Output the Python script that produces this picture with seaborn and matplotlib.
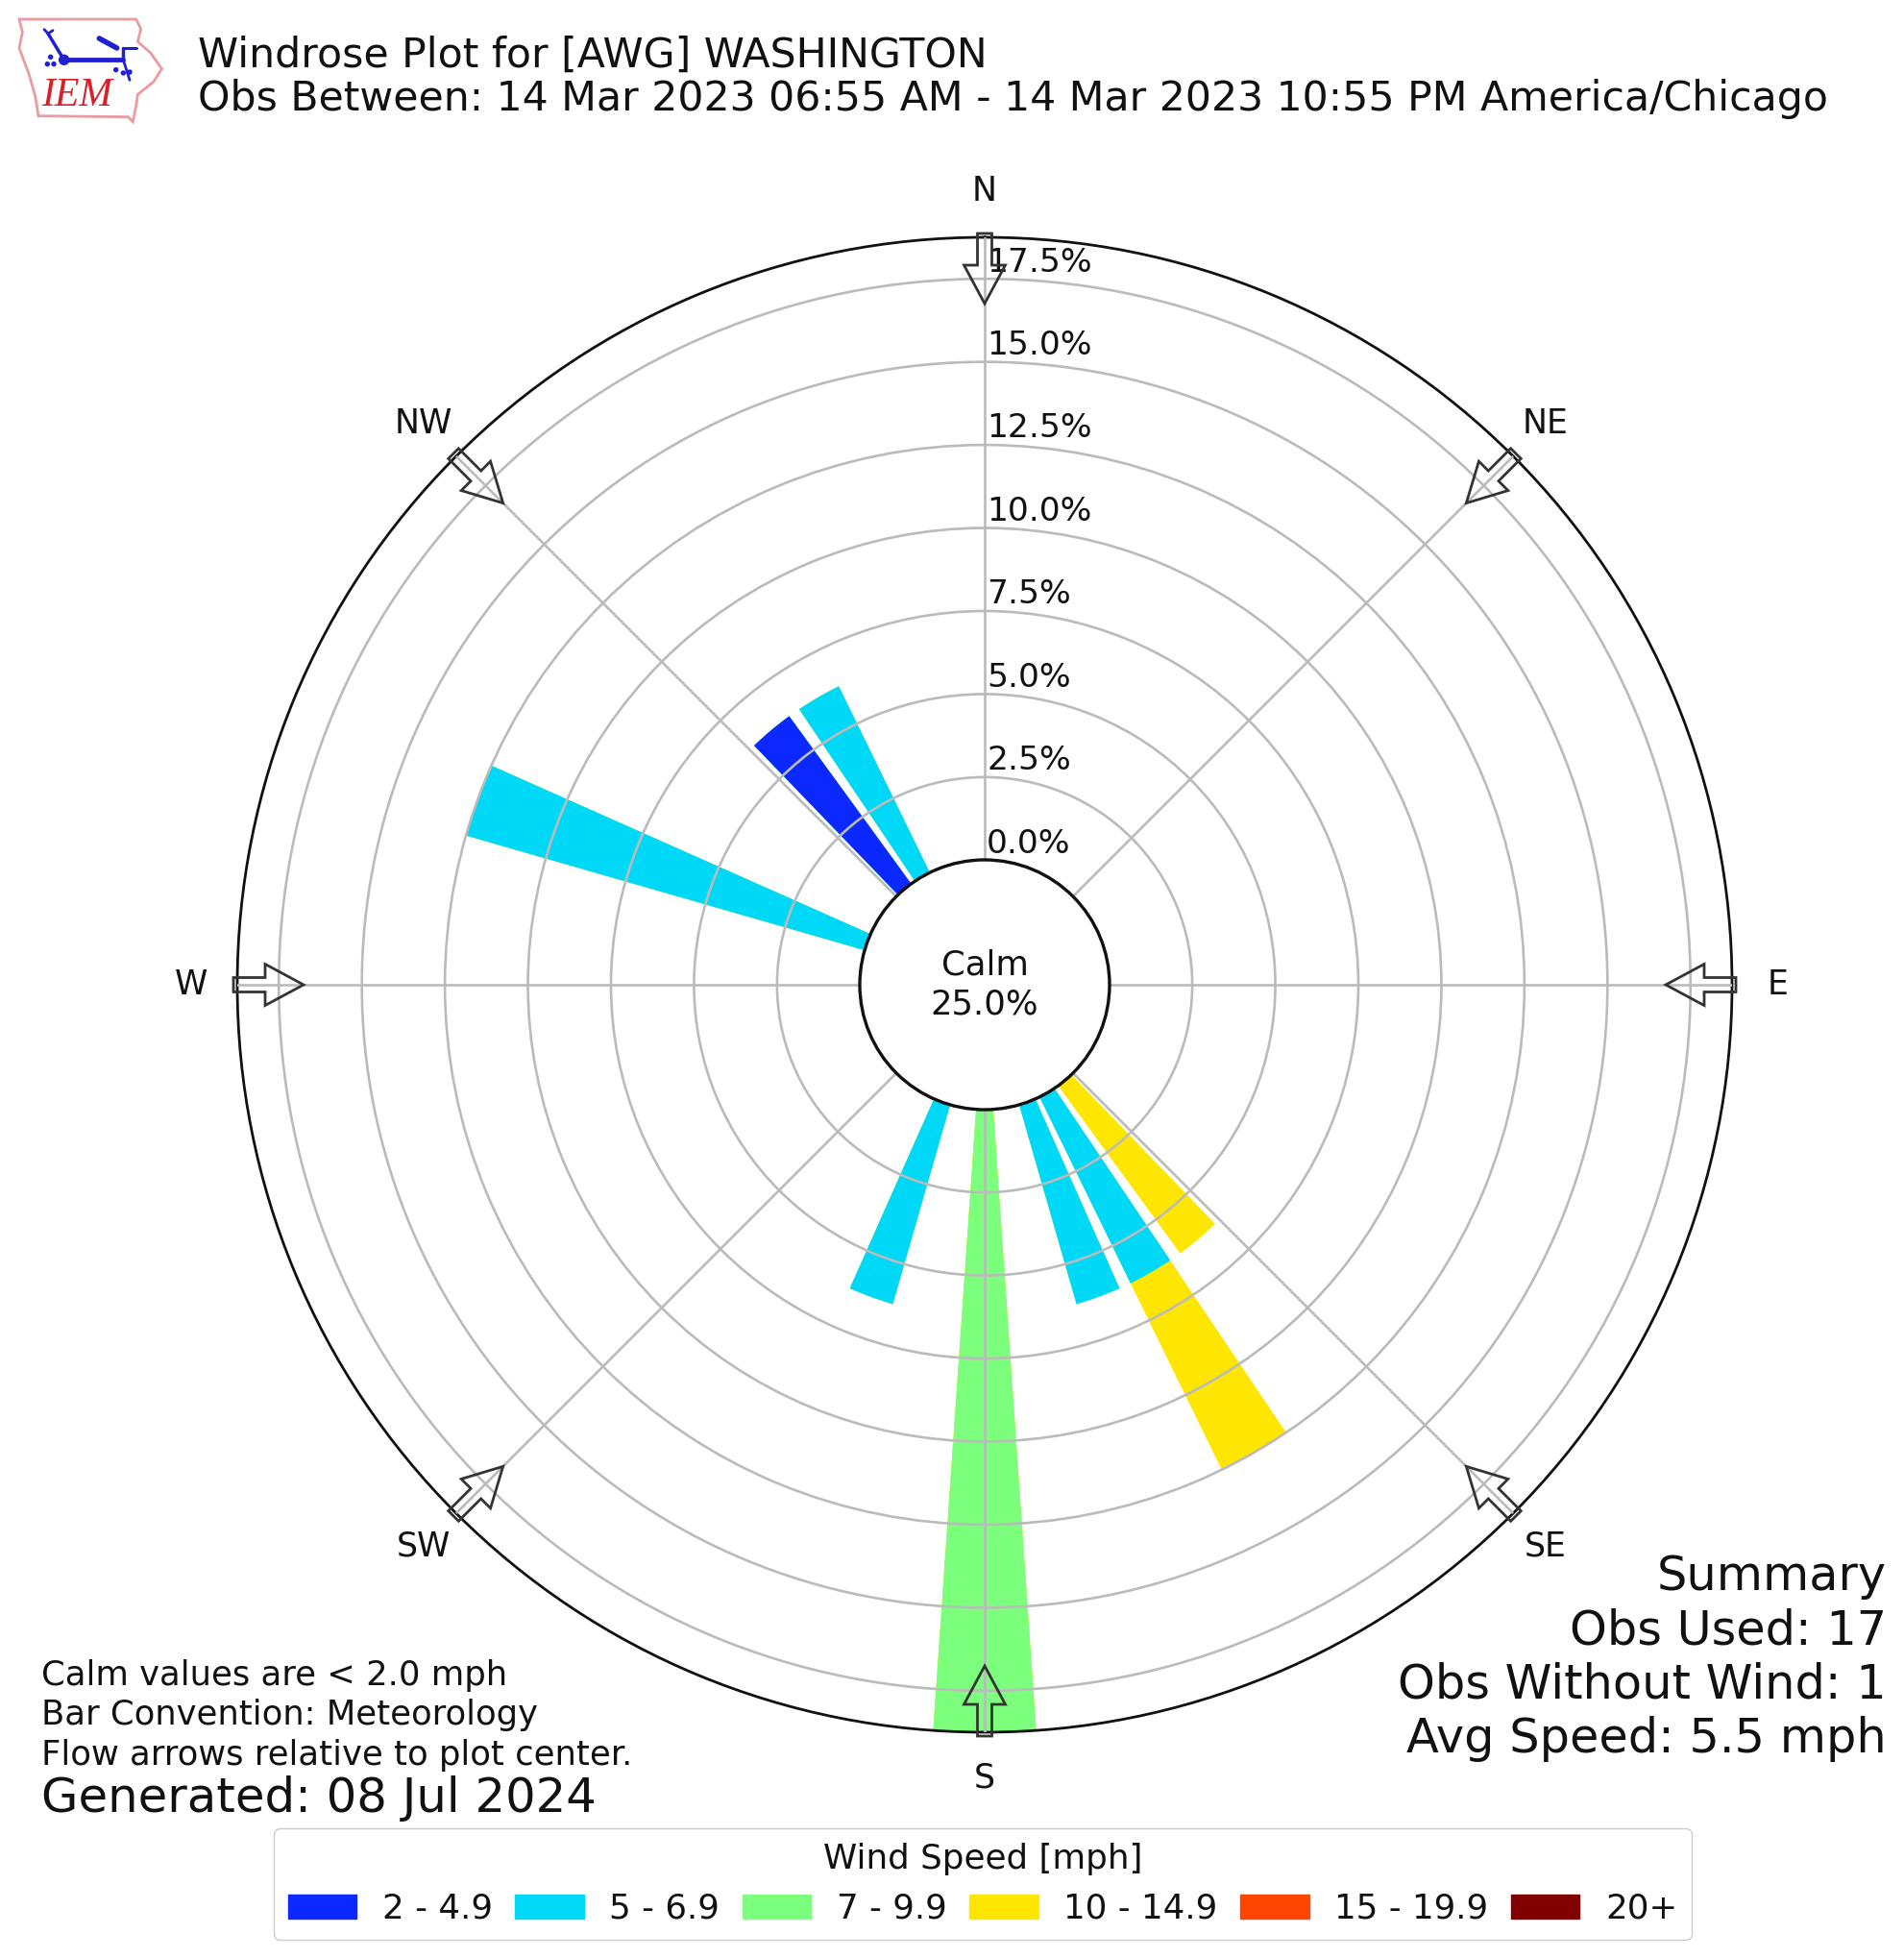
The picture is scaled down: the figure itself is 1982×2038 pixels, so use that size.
import numpy as np
import pandas as pd
import matplotlib.pyplot as plt
from matplotlib.patches import Patch, Polygon, Circle, FancyArrow
import seaborn as sns

# wind direction bins (deg) and percent of obs per speed class
directions = [140, 150, 160, 180, 200, 290, 320, 330]
pct_2_5 = [0, 0, 0, 0, 0, 0, 6.25, 0]
pct_5_7 = [0, 6.25, 6.25, 0, 6.25, 12.5, 0, 6.25]
pct_7_10 = [0, 0, 0, 18.75, 0, 0, 0, 0]
pct_10_15 = [6.25, 6.25, 0, 0, 0, 0, 0, 0]

speed_labels = ["2 - 4.9", "5 - 6.9", "7 - 9.9", "10 - 14.9", "15 - 19.9", "20+"]
speed_colors = ["#0a28ff", "#00d8f8", "#7cff7c", "#ffe600", "#ff4500", "#800000"]

r_ticks = [0, 2.5, 5, 7.5, 10, 12.5, 15, 17.5]
r_tick_labels = ["0.0%", "2.5%", "5.0%", "7.5%", "10.0%", "12.5%", "15.0%", "17.5%"]
theta_ticks = [0, 45, 90, 135, 180, 225, 270, 315]
theta_labels = ["N", "NE", "E", "SE", "S", "SW", "W", "NW"]
r_max = 18.75
r_origin = -3.75

W, H = 1983, 2038
TXT = "#111111"

sns.set_style("white")
plt.rcParams["font.family"] = ["DejaVu Sans"]
plt.rcParams["text.color"] = TXT

fig = plt.figure(figsize=(W / 100, H / 100), dpi=100)


def px(x, y):
    return x / W, 1 - y / H


# main rose, centre (1025, 1025), radius 778 px
ax = fig.add_axes([(1025 - 778) / W, (H - 1025 - 778) / H, 1556 / W, 1556 / H], polar=True)
ax.set_theta_zero_location("N")
ax.set_theta_direction(-1)

# stack by drawing the cumulative totals from the top class down
stack = np.array([pct_2_5, pct_5_7, pct_7_10, pct_10_15])
cum = stack.cumsum(axis=0)
df = pd.DataFrame({"theta": np.deg2rad(directions)})
for i in range(3, -1, -1):
    df["pct"] = cum[i]
    sns.barplot(data=df, x="theta", y="pct", native_scale=True, color=speed_colors[i],
                saturation=1, errorbar=None, width=0.79, edgecolor="none", linewidth=0, ax=ax)

ax.set_xlabel("")
ax.set_ylabel("")
ax.set_rorigin(r_origin)
ax.set_rlim(0, r_max)
ax.set_xticks(np.deg2rad(theta_ticks))
ax.set_xticklabels(theta_labels)
ax.set_yticks(r_ticks)
ax.set_yticklabels([])
ax.set_axisbelow(False)
ax.grid(True, color="#bbbbbb", lw=1.9)
ax.tick_params(axis="x", labelsize=25, pad=24, colors=TXT)
for s in ax.spines.values():
    s.set_edgecolor("#111111")
    s.set_linewidth(2)

for r, lab in zip(r_ticks, r_tick_labels):
    ax.annotate(lab, xy=(0, r), xytext=(1.5, 0.5), textcoords="offset points",
                ha="left", va="bottom", fontsize=24.8, color=TXT, zorder=6)

# calm circle on top of the inner spine
ax.add_patch(Circle((0.5, 0.5), 130 / 1556, transform=ax.transAxes, facecolor="white",
                    edgecolor="#111111", lw=2.4, zorder=5, clip_on=False))

# flow arrows, hollow, from just outside the rim towards the centre
for t in theta_ticks:
    a = np.deg2rad(t)
    start = 782 / 1556
    length = 73 / 1556
    ax.add_patch(FancyArrow(0.5 + start * np.sin(a), 0.5 + start * np.cos(a),
                            -length * np.sin(a), -length * np.cos(a),
                            width=15 / 1556, head_width=43 / 1556, head_length=40 / 1556,
                            length_includes_head=True, transform=ax.transAxes, clip_on=False,
                            facecolor="none", edgecolor="#333333", lw=2, zorder=7))

ax.text(0.5, 0.5, "Calm\n25.0%", transform=ax.transAxes, ha="center", va="center",
        fontsize=25.5, linespacing=1.27, zorder=8)

# header
fig.text(*px(206, 58), "Windrose Plot for [AWG] WASHINGTON", fontsize=30.7, va="center")
fig.text(*px(206, 103), "Obs Between: 14 Mar 2023 06:55 AM - 14 Mar 2023 10:55 PM America/Chicago",
         fontsize=30.7, va="center")

# notes lower left
fig.text(*px(43, 1744), "Calm values are < 2.0 mph", fontsize=25.5, va="center")
fig.text(*px(43, 1785), "Bar Convention: Meteorology", fontsize=25.5, va="center")
fig.text(*px(43, 1827), "Flow arrows relative to plot center.", fontsize=25.5, va="center")
fig.text(*px(43, 1872), "Generated: 08 Jul 2024", fontsize=35.8, va="center")

# summary lower right
summary = ["Summary", "Obs Used: 17", "Obs Without Wind: 1", "Avg Speed: 5.5 mph"]
for y, line in zip([1641, 1697, 1754, 1810], summary):
    fig.text(*px(1964, y), line, fontsize=35.6, ha="right", va="center")

# legend
handles = [Patch(color=c, label=l) for c, l in zip(speed_colors, speed_labels)]
fig.legend(handles=handles, title="Wind Speed [mph]", ncol=6, loc="center",
           bbox_to_anchor=px(1023, 1961), fontsize=25.7, title_fontsize=25.7,
           columnspacing=0.66, handletextpad=0.75, borderpad=0.42, frameon=True,
           edgecolor="#cccccc", framealpha=1, labelcolor=TXT)

# IEM logo, drawn in image pixels
logo = fig.add_axes([0, 1 - 135 / H, 175 / W, 135 / H])
logo.set_xlim(0, 175)
logo.set_ylim(135, 0)
logo.axis("off")
outline = np.array([(60, 60), (425, 60), (440, 90), (430, 130), (470, 165), (505, 215), (480, 255),
                    (430, 295), (425, 330), (415, 380), (400, 365), (120, 362), (110, 300),
                    (90, 230), (60, 150), (70, 100)]) / 3
logo.add_patch(Polygon(outline, closed=True, fill=False, edgecolor="#ea9aa0", lw=2))
blue = "#2020d0"
for seg, w in [([(200, 187), (385, 187)], 3.5), ([(385, 187), (385, 150)], 2.5),
               ([(385, 150), (425, 150)], 2.2), ([(200, 187), (150, 105)], 2.5),
               ([(150, 105), (138, 92)], 2), ([(150, 105), (165, 95)], 2),
               ([(310, 120), (365, 150)], 4), ([(385, 187), (405, 250)], 2)]:
    pts = np.array(seg) / 3
    logo.plot(pts[:, 0], pts[:, 1], color=blue, lw=w, solid_capstyle="round")
logo.add_patch(Circle((200 / 3, 187 / 3), 5, color=blue))
for x, y in [(158, 178), (148, 200), (168, 200), (362, 218), (405, 225), (385, 228)]:
    logo.add_patch(Circle((x / 3, y / 3), 2, color=blue))
logo.text(240 / 3, 300 / 3, "IEM", color="#d8202a", fontsize=30, family="Liberation Serif",
          style="italic", ha="center", va="center")

fig.savefig("out.png", dpi=100)
